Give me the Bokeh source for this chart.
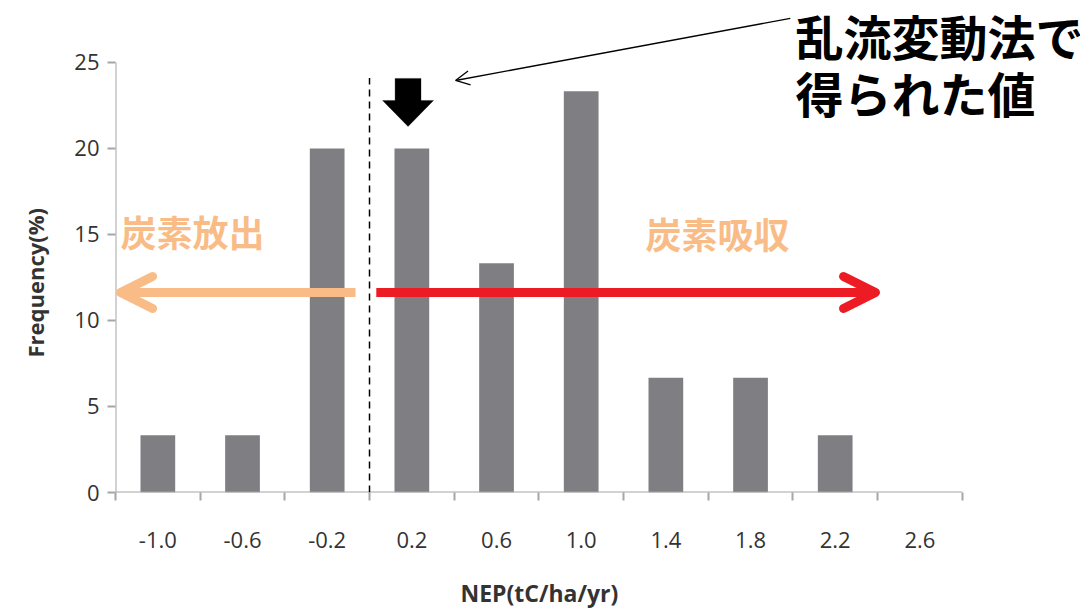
from bokeh.plotting import figure
from bokeh.models import (ColumnDataSource, FixedTicker, Label, Arrow, OpenHead,
                          PolyAnnotation, Range1d, Title)
from bokeh.embed import file_html
from bokeh.resources import INLINE

# ---- data ----
nep_bins = ["-1.0", "-0.6", "-0.2", "0.2", "0.6", "1.0", "1.4", "1.8", "2.2", "2.6"]
frequency = [3.33, 3.33, 20.0, 20.0, 13.33, 23.33, 6.67, 6.67, 3.33, 0.0]
y_ticks = [0, 5, 10, 15, 20, 25]

x_title = "NEP(tC/ha/yr)"
y_title = "Frequency(%)"
label_release = "炭素放出"
label_absorb = "炭素吸収"
note_lines = ["乱流変動法で", "得られた値"]

n = len(nep_bins)
idx = list(range(n))
src = ColumnDataSource(dict(x=idx, top=frequency))

AXIS = "#A6A6A6"
TXT = "#333333"
PEACH = "#F9BC87"
RED = "#ED1C24"
TICK_FONT = "Open Sans"

p = figure(frame_width=965, frame_height=492, output_backend="svg", toolbar_location=None,
           x_range=Range1d(-0.5, 10.897), y_range=Range1d(0, 28.6),
           min_border_left=115, min_border_bottom=115, min_border_top=0, min_border_right=0)
p.outline_line_color = None
p.xgrid.grid_line_color = None
p.ygrid.grid_line_color = None
p.background_fill_color = "white"

p.vbar(x="x", top="top", width=0.41, source=src, fill_color="#7F7F83", line_color=None)

# axes
xa = p.xaxis[0]
xa.ticker = FixedTicker(ticks=idx, minor_ticks=[i - 0.5 for i in range(n + 1)])
xa.major_label_overrides = {i: lab for i, lab in enumerate(nep_bins)}
xa.axis_line_color = None
xa.major_tick_out = 0
xa.major_tick_in = 0
xa.minor_tick_out = 8
xa.minor_tick_in = 0
xa.minor_tick_line_color = AXIS
xa.minor_tick_line_width = 2
xa.major_label_standoff = 31
xa.major_label_text_font = TICK_FONT
xa.major_label_text_font_size = "22px"
xa.major_label_text_color = TXT

ya = p.yaxis[0]
ya.ticker = FixedTicker(ticks=y_ticks)
ya.axis_line_color = None
ya.major_tick_out = 8
ya.major_tick_in = 0
ya.minor_tick_line_color = None
ya.major_tick_line_color = AXIS
ya.major_tick_line_width = 2
ya.major_label_standoff = 8
ya.major_label_text_font = TICK_FONT
ya.major_label_text_font_size = "22px"
ya.major_label_text_color = TXT

# axis lines (only over the category / value extent)
p.segment(x0=-0.5, y0=0, x1=n - 0.5, y1=0, line_color=AXIS, line_width=2)
p.segment(x0=-0.5, y0=0, x1=-0.5, y1=max(y_ticks), line_color=AXIS, line_width=2)

# axis titles (as side titles so that they can be positioned along the axis)
p.add_layout(Title(text=x_title, align="left", offset=345, standoff=48,
                   text_font="Open Sans", text_font_style="bold",
                   text_font_size="23px", text_color=TXT), "below")
p.add_layout(Title(text=y_title, align="left", offset=135, standoff=39,
                   vertical_align="top",
                   text_font="Open Sans", text_font_style="bold",
                   text_font_size="22px", text_color=TXT), "left")

# dashed divider
p.segment(x0=2.5, y0=0, x1=2.5, y1=24.1, line_color="black", line_width=1.5, line_dash="7 5")

# release / absorb arrows
p.add_layout(Arrow(x_start=2.335, y_start=11.63, x_end=-0.44, y_end=11.63,
                   line_color=PEACH, line_width=9,
                   end=OpenHead(size=32, line_color=PEACH, line_width=9,
                                line_cap="round", line_join="round")))
p.add_layout(Arrow(x_start=2.58, y_start=11.63, x_end=8.476, y_end=11.63,
                   line_color=RED, line_width=9,
                   end=OpenHead(size=32, line_color=RED, line_width=9,
                                line_cap="round", line_join="round")))

p.add_layout(Label(x=-0.44, y=15.2, text=label_release, text_baseline="middle",
                   text_font="Noto Sans CJK JP", text_font_style="bold",
                   text_font_size="36px", text_color=PEACH))
p.add_layout(Label(x=5.76, y=15.08, text=label_absorb, text_baseline="middle",
                   text_font="Noto Sans CJK JP", text_font_style="bold",
                   text_font_size="36px", text_color=PEACH))

# block arrow over 0.2 bin
cx, sw, hw = 2.955, 0.153, 0.301
p.add_layout(PolyAnnotation(xs=[cx - sw, cx + sw, cx + sw, cx + hw, cx, cx - hw, cx - sw],
                            ys=[24.07, 24.07, 22.79, 22.79, 21.28, 22.79, 22.79],
                            fill_color="black", fill_alpha=1, line_color="black", line_width=1))

# pointer arrow and note
p.add_layout(Arrow(x_start=7.47, y_start=27.56, x_end=3.516, y_end=23.95,
                   line_color="black", line_width=1.3,
                   end=OpenHead(size=14, line_color="black", line_width=1.3)))
p.add_layout(Label(x=7.53, y=26.6, text=note_lines[0], text_baseline="middle",
                   text_font="Noto Sans CJK JP", text_font_style="bold",
                   text_font_size="48px", text_color="black"))
p.add_layout(Label(x=7.53, y=23.3, text=note_lines[1], text_baseline="middle",
                   text_font="Noto Sans CJK JP", text_font_style="bold",
                   text_font_size="48px", text_color="black"))

open("out.html", "w").write(file_html(p, INLINE))
